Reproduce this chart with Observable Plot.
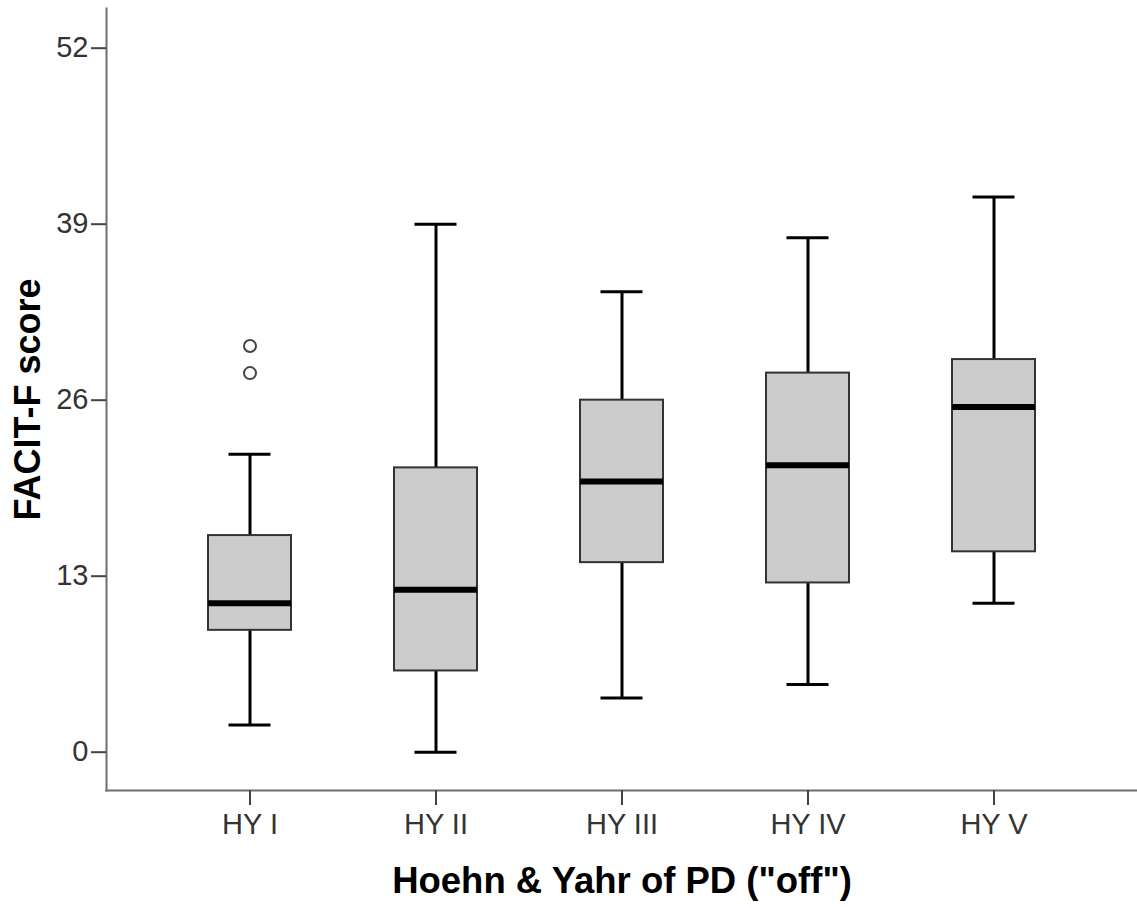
<!DOCTYPE html>
<html>
<head>
<meta charset="utf-8">
<script src="https://cdn.jsdelivr.net/npm/d3@7"></script>
<script src="https://cdn.jsdelivr.net/npm/@observablehq/plot@0.6"></script>
<style>
  html, body { margin: 0; padding: 0; background: #fff; }
  #chart svg { display: block; }
</style>
</head>
<body>
<div id="chart"></div>
<script>
const groups = ["HY I", "HY II", "HY III", "HY IV", "HY V"];
const lowWhisker = [2, 0, 4, 5, 11];
const q1 = [9, 6, 14, 12.5, 14.8];
const median = [11, 12, 20, 21.2, 25.5];
const q3 = [16, 21, 26, 28, 29];
const highWhisker = [22, 39, 34, 38, 41];
const outlierGroup = ["HY I", "HY I"];
const outlierValue = [28, 30];
const yTicks = [0, 13, 26, 39, 52];
const xTitle = 'Hoehn & Yahr of PD ("off")';
const yTitle = "FACIT-F score";

const boxes = groups.map((g, i) => ({
  group: g, low: lowWhisker[i], q1: q1[i], median: median[i], q3: q3[i], high: highWhisker[i]
}));
const outliers = outlierGroup.map((g, i) => ({group: g, value: outlierValue[i]}));

const font = "'Liberation Sans', Arial, sans-serif";

const chart = Plot.plot({
  width: 1137,
  height: 908,
  marginTop: 8,
  marginBottom: 118,
  marginLeft: 106,
  marginRight: 0,
  style: {fontFamily: font, background: "#fff"},
  x: {type: "band", domain: groups, paddingInner: 0.554, paddingOuter: 0.5445, axis: null},
  y: {type: "linear", domain: [-2.83, 54.93], axis: null},
  marks: [
    Plot.frame({anchor: "left", stroke: "#6e6e6e", strokeWidth: 2}),
    Plot.frame({anchor: "bottom", stroke: "#6e6e6e", strokeWidth: 2}),
    Plot.axisY(yTicks, {tickSize: 15, tickPadding: 3, fontSize: 29, label: null, stroke: "#444", strokeWidth: 2, fill: "#333"}),
    Plot.axisX(groups, {tickSize: 15, tickPadding: 8, fontSize: 29, label: null, stroke: "#444", strokeWidth: 2, fill: "#333"}),
    Plot.ruleX(boxes, {x: "group", y1: "low", y2: "high", stroke: "#000", strokeWidth: 3}),
    Plot.tickY(boxes, {x: "group", y: "low", stroke: "#000", strokeWidth: 3, insetLeft: 20.5, insetRight: 20.5}),
    Plot.tickY(boxes, {x: "group", y: "high", stroke: "#000", strokeWidth: 3, insetLeft: 20.5, insetRight: 20.5}),
    Plot.barY(boxes, {x: "group", y1: "q1", y2: "q3", fill: "#cccccc", stroke: "#333", strokeWidth: 2}),
    Plot.tickY(boxes, {x: "group", y: "median", stroke: "#000", strokeWidth: 6}),
    Plot.dot(outliers, {x: "group", y: "value", r: 6, fill: "#fff", stroke: "#444", strokeWidth: 2}),
    Plot.text([yTitle], {frameAnchor: "left", textAnchor: "middle", lineAnchor: "middle", rotate: -90, dx: -78, fontSize: 36, fontWeight: "bold", fill: "#000", fontFamily: font}),
    Plot.text([xTitle], {frameAnchor: "bottom", textAnchor: "middle", lineAnchor: "middle", dy: 91, fontSize: 36.5, fontWeight: "bold", fill: "#000", fontFamily: font})
  ]
});
document.getElementById("chart").appendChild(chart);
</script>
</body>
</html>
